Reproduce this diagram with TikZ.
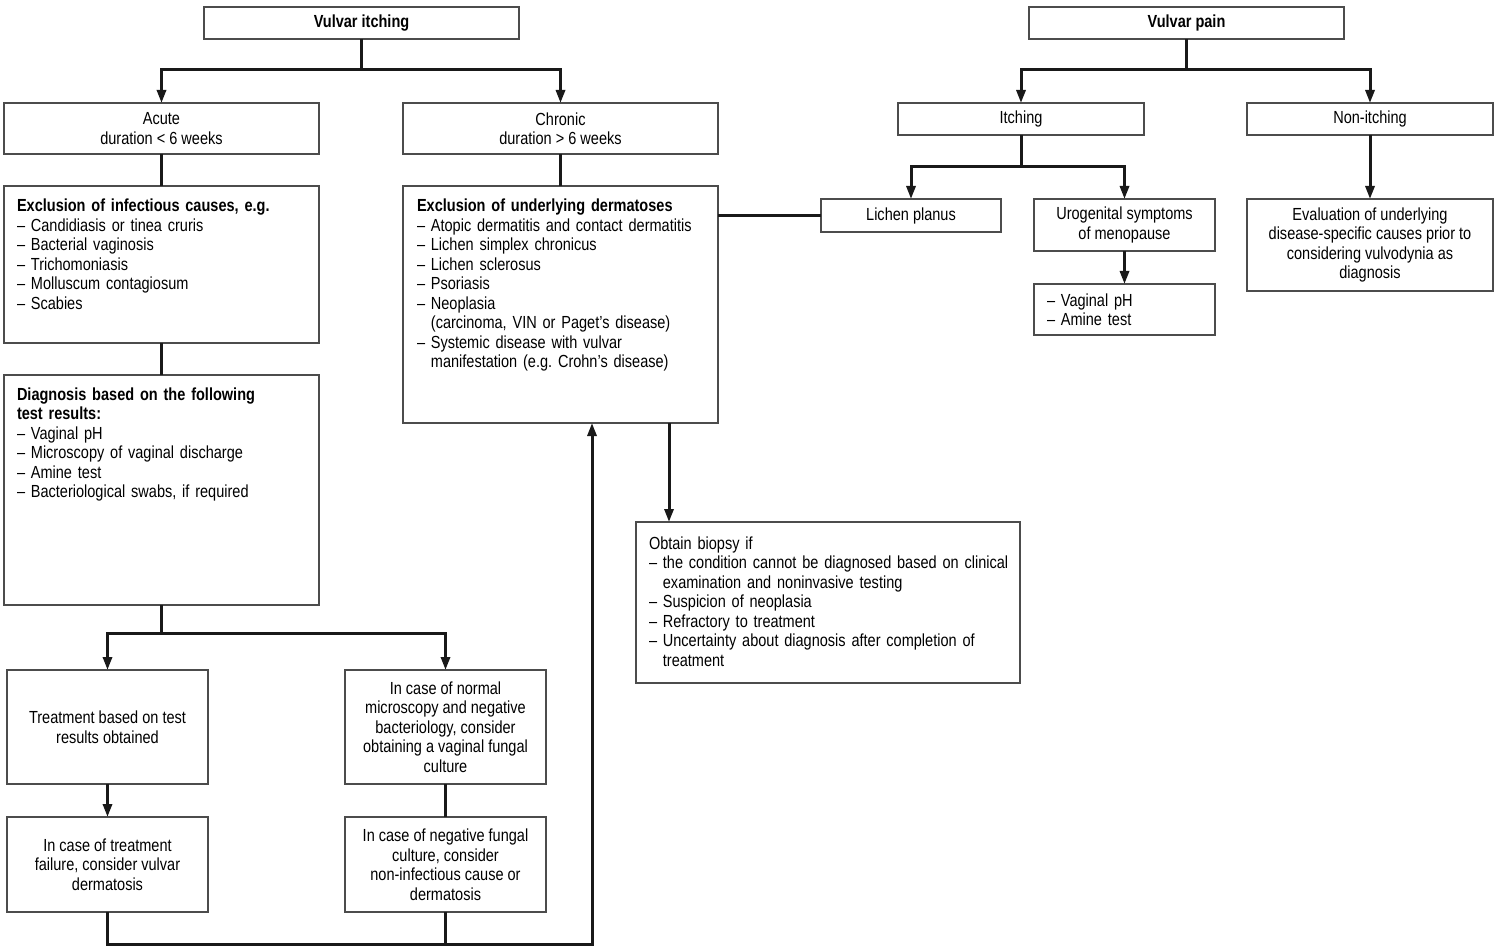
\documentclass[tikz,border=0pt]{standalone}
\usepackage{fontspec}
\setmainfont{Liberation Sans}[FakeStretch=0.83]
\usetikzlibrary{arrows.meta}
\frenchspacing
\tikzset{
  box/.style={draw=black!70, line width=1.1pt, rectangle, inner sep=0pt, outer sep=0pt, align=center, font=\fontsize{17.5pt}{19.5pt}\selectfont},
  txt/.style={inner sep=0pt, outer sep=0pt, align=left, anchor=base west, text width=420pt, font=\fontsize{17.5pt}{19.5pt}\selectfont},
  conn/.style={line width=3pt, black!90},
  arr/.style={conn, -{Triangle[length=13pt,width=9pt]}},
}
\newcommand{\mkbox}[7][]{\node[box,#1,minimum width={(#5-#3)*1pt},minimum height={(#6-#4)*1pt}] (#2) at ({(#3+#5)/2},{(#4+#6)/2}) {#7};}
\newcommand{\hg}{\phantom{– }}
\begin{document}
\begin{tikzpicture}[x=1pt,y=-1pt]
\useasboundingbox (0,0) rectangle (1500,952);
% boxes
\mkbox{vi}{204}{7}{519}{39}{\textbf{Vulvar itching}}
\mkbox{vp}{1029}{7}{1344}{39}{\textbf{Vulvar pain}}
\mkbox{acute}{4}{103}{319}{154}{Acute\\duration < 6 weeks}
\mkbox{chronic}{403}{103}{718}{154}{Chronic\\duration > 6 weeks}
\mkbox{exa}{4}{186}{319}{343}{}
\mkbox{exb}{403}{186}{718}{423}{}
\mkbox{diag}{4}{375}{319}{605}{}
\mkbox{treat}{7}{670}{208}{784}{Treatment based on test\\results obtained}
\mkbox{normal}{345}{670}{546}{784}{In case of normal\\microscopy and negative\\bacteriology, consider\\obtaining a vaginal fungal\\culture}
\mkbox{fail}{7}{817}{208}{912}{In case of treatment\\failure, consider vulvar\\dermatosis}
\mkbox{negfun}{345}{817}{546}{912}{In case of negative fungal\\culture, consider\\non-infectious cause or\\dermatosis}
\mkbox{biopsy}{636}{522}{1020}{683}{}
\mkbox{itch}{898}{103}{1144}{135}{Itching}
\mkbox{nonitch}{1247}{103}{1493}{135}{Non-itching}
\mkbox{lichen}{821}{199}{1001}{232}{Lichen planus}
\mkbox{uro}{1034}{199}{1215}{251}{Urogenital symptoms\\of menopause}
\mkbox{tests}{1034}{284}{1215}{335}{}
\mkbox{eval}{1247}{199}{1493}{291}{Evaluation of underlying\\disease-specific causes prior to\\considering vulvodynia as\\diagnosis}
% left-aligned texts
\node[txt] (exat) at (17,212) {\textbf{Exclusion of infectious causes, e.g.}\\– Candidiasis or tinea cruris\\– Bacterial vaginosis\\– Trichomoniasis\\– Molluscum contagiosum\\– Scabies};
\node[txt] (exbt) at (417,212) {\textbf{Exclusion of underlying dermatoses}\\– Atopic dermatitis and contact dermatitis\\– Lichen simplex chronicus\\– Lichen sclerosus\\– Psoriasis\\– Neoplasia\\\hg(carcinoma, VIN or Paget's disease)\\– Systemic disease with vulvar\\\hg manifestation (e.g. Crohn's disease)};
\node[txt] (diagt) at (17,400) {\textbf{Diagnosis based on the following}\\\textbf{test results:}\\– Vaginal pH\\– Microscopy of vaginal discharge\\– Amine test\\– Bacteriological swabs, if required};
\node[txt] (biopsyt) at (649,549) {Obtain biopsy if\\– the condition cannot be diagnosed based on clinical\\\hg examination and noninvasive testing\\– Suspicion of neoplasia\\– Refractory to treatment\\– Uncertainty about diagnosis after completion of\\\hg treatment};
\node[txt] (testst) at (1047,306) {– Vaginal pH\\– Amine test};
% helper coordinates
\coordinate (y70) at (0,70);
\coordinate (y167) at (0,167);
\coordinate (y633) at (0,633);
\coordinate (y944) at (0,944);
\coordinate (x592) at (592,0);
\coordinate (x669) at (669,0);
% connectors: vulvar itching
\draw[conn] (vi.south) -- (vi.south |- y70) coordinate (j1);
\draw[arr] (j1) -| (acute.north);
\draw[arr] (j1) -| (chronic.north);
\draw[conn] (acute.south) -- (exa.north);
\draw[conn] (chronic.south) -- (exb.north);
\draw[conn] (exa.south) -- (diag.north);
\draw[conn] (diag.south) -- (diag.south |- y633) coordinate (j2);
\draw[arr] (j2) -| (treat.north);
\draw[arr] (j2) -| (normal.north);
\draw[arr] (treat.south) -- (fail.north);
\draw[conn] (normal.south) -- (negfun.north);
\draw[conn] (negfun.south) -- (negfun.south |- y944);
\draw[arr] (fail.south) -- (fail.south |- y944) -| (exb.south -| x592);
\draw[arr] (exb.south -| x669) -- (biopsy.north -| x669);
\draw[conn] (lichen.west) -- (lichen.west -| exb.east);
% connectors: vulvar pain
\draw[conn] (vp.south) -- (vp.south |- y70) coordinate (j3);
\draw[arr] (j3) -| (itch.north);
\draw[arr] (j3) -| (nonitch.north);
\draw[conn] (itch.south) -- (itch.south |- y167) coordinate (j4);
\draw[arr] (j4) -| (lichen.north);
\draw[arr] (j4) -| (uro.north);
\draw[arr] (uro.south) -- (tests.north);
\draw[arr] (nonitch.south) -- (eval.north);
\end{tikzpicture}
\end{document}
